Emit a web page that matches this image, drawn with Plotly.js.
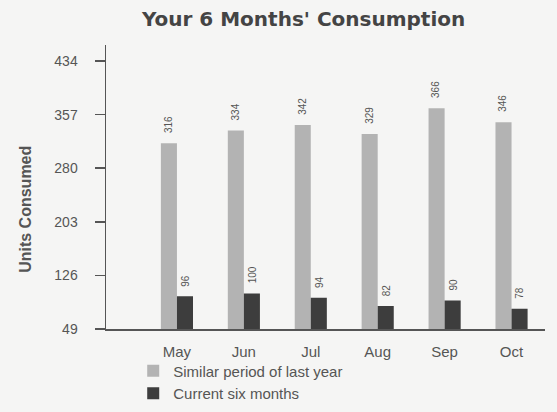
<!DOCTYPE html>
<html>
<head>
<meta charset="utf-8">
<script src="https://cdn.plot.ly/plotly-3.0.1.min.js"></script>
<style>html,body{margin:0;padding:0;background:#f5f5f4;}</style>
</head>
<body>
<div id="chart" style="width:557px;height:412px;"></div>
<script>
var months = ["May", "Jun", "Jul", "Aug", "Sep", "Oct"];
var lastYear = [316, 334, 342, 329, 366, 346];
var current = [96, 100, 94, 82, 90, 78];
var yTicks = [49, 126, 203, 280, 357, 434];
var seriesNames = ["Similar period of last year", "Current six months"];

var traces = [
  {type: "bar", x: months, y: lastYear, name: seriesNames[0],
   marker: {color: "#b3b3b3", line: {width: 0}}, hoverinfo: "none"},
  {type: "bar", x: months, y: current, name: seriesNames[1],
   marker: {color: "#3d3d3d", line: {width: 0}}, hoverinfo: "none"}
];

var annotations = [];
function addLabels(vals, shift) {
  for (var i = 0; i < months.length; i++) {
    annotations.push({x: months[i], y: vals[i], xref: "x", yref: "y",
      text: String(vals[i]), showarrow: false, textangle: -90,
      xanchor: "center", yanchor: "bottom", xshift: shift, yshift: 8,
      font: {family: "Liberation Sans, Arial, sans-serif", size: 10, color: "#555"}});
  }
}
addLabels(lastYear, -8.5);
addLabels(current, 8.5);
annotations.push({xref: "paper", yref: "paper", x: -0.182, y: 0.42,
  text: "<b>Units Consumed</b>", showarrow: false, textangle: -90,
  xanchor: "center", yanchor: "middle",
  font: {family: "Liberation Sans, Arial, sans-serif", size: 16, color: "#555"}});

var layout = {
  width: 557, height: 412,
  margin: {l: 106, r: 12, t: 45, b: 83, autoexpand: false},
  paper_bgcolor: "#f5f5f4", plot_bgcolor: "#f5f5f4",
  title: {text: "<b>Your 6 Months' Consumption</b>", x: 0.545, xanchor: "center",
          y: 0.955, yanchor: "middle",
          font: {family: "DejaVu Sans, Verdana, sans-serif", size: 20, color: "#444"}},
  barmode: "group", bargap: 0.52, bargroupgap: 0,
  showlegend: true,
  legend: {x: 0.062, y: -0.09, xanchor: "left", yanchor: "top", orientation: "v",
           bgcolor: "rgba(0,0,0,0)", traceorder: "normal", tracegroupgap: 0,
           font: {family: "Liberation Sans, Arial, sans-serif", size: 15, color: "#555"}},
  xaxis: {type: "category", range: [-1.06, 5.5], showline: true, linecolor: "#555",
          linewidth: 1.5, ticks: "", showgrid: false, zeroline: false, fixedrange: true,
          ticklabelstandoff: 8,
          tickfont: {family: "Liberation Sans, Arial, sans-serif", size: 15, color: "#555"}},
  yaxis: {range: [49, 457], tickmode: "array", tickvals: yTicks, ticktext: yTicks.map(String),
          showline: true, linecolor: "#555", linewidth: 1.5, ticks: "outside", ticklen: 10,
          tickcolor: "#555", tickwidth: 1.5, showgrid: false, zeroline: false,
          ticklabelstandoff: 14,
          tickfont: {family: "Liberation Sans, Arial, sans-serif", size: 14, color: "#555"}},
  annotations: annotations
};

Plotly.newPlot("chart", traces, layout, {staticPlot: true, displayModeBar: false});
</script>
</body>
</html>
